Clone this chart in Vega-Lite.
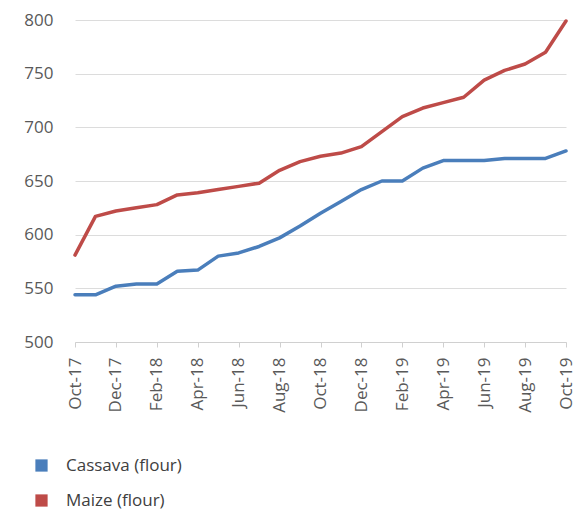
{
  "$schema": "https://vega.github.io/schema/vega-lite/v6.json",
  "autosize": {"type": "none"},
  "width": 491,
  "height": 322,
  "padding": {"left": 75, "top": 20, "right": 17, "bottom": 168},
  "background": "white",
  "config": {
    "view": {"stroke": null},
    "font": "Open Sans"
  },
  "data": {
    "values": [
      {"month": "Oct-17", "commodity": "Cassava (flour)", "price": 544},
      {"month": "Nov-17", "commodity": "Cassava (flour)", "price": 544},
      {"month": "Dec-17", "commodity": "Cassava (flour)", "price": 552},
      {"month": "Jan-18", "commodity": "Cassava (flour)", "price": 554},
      {"month": "Feb-18", "commodity": "Cassava (flour)", "price": 554},
      {"month": "Mar-18", "commodity": "Cassava (flour)", "price": 566},
      {"month": "Apr-18", "commodity": "Cassava (flour)", "price": 567},
      {"month": "May-18", "commodity": "Cassava (flour)", "price": 580},
      {"month": "Jun-18", "commodity": "Cassava (flour)", "price": 583},
      {"month": "Jul-18", "commodity": "Cassava (flour)", "price": 589},
      {"month": "Aug-18", "commodity": "Cassava (flour)", "price": 597},
      {"month": "Sep-18", "commodity": "Cassava (flour)", "price": 608},
      {"month": "Oct-18", "commodity": "Cassava (flour)", "price": 620},
      {"month": "Nov-18", "commodity": "Cassava (flour)", "price": 631},
      {"month": "Dec-18", "commodity": "Cassava (flour)", "price": 642},
      {"month": "Jan-19", "commodity": "Cassava (flour)", "price": 650},
      {"month": "Feb-19", "commodity": "Cassava (flour)", "price": 650},
      {"month": "Mar-19", "commodity": "Cassava (flour)", "price": 662},
      {"month": "Apr-19", "commodity": "Cassava (flour)", "price": 669},
      {"month": "May-19", "commodity": "Cassava (flour)", "price": 669},
      {"month": "Jun-19", "commodity": "Cassava (flour)", "price": 669},
      {"month": "Jul-19", "commodity": "Cassava (flour)", "price": 671},
      {"month": "Aug-19", "commodity": "Cassava (flour)", "price": 671},
      {"month": "Sep-19", "commodity": "Cassava (flour)", "price": 671},
      {"month": "Oct-19", "commodity": "Cassava (flour)", "price": 678},
      {"month": "Oct-17", "commodity": "Maize (flour)", "price": 581},
      {"month": "Nov-17", "commodity": "Maize (flour)", "price": 617},
      {"month": "Dec-17", "commodity": "Maize (flour)", "price": 622},
      {"month": "Jan-18", "commodity": "Maize (flour)", "price": 625},
      {"month": "Feb-18", "commodity": "Maize (flour)", "price": 628},
      {"month": "Mar-18", "commodity": "Maize (flour)", "price": 637},
      {"month": "Apr-18", "commodity": "Maize (flour)", "price": 639},
      {"month": "May-18", "commodity": "Maize (flour)", "price": 642},
      {"month": "Jun-18", "commodity": "Maize (flour)", "price": 645},
      {"month": "Jul-18", "commodity": "Maize (flour)", "price": 648},
      {"month": "Aug-18", "commodity": "Maize (flour)", "price": 660},
      {"month": "Sep-18", "commodity": "Maize (flour)", "price": 668},
      {"month": "Oct-18", "commodity": "Maize (flour)", "price": 673},
      {"month": "Nov-18", "commodity": "Maize (flour)", "price": 676},
      {"month": "Dec-18", "commodity": "Maize (flour)", "price": 682},
      {"month": "Jan-19", "commodity": "Maize (flour)", "price": 696},
      {"month": "Feb-19", "commodity": "Maize (flour)", "price": 710},
      {"month": "Mar-19", "commodity": "Maize (flour)", "price": 718},
      {"month": "Apr-19", "commodity": "Maize (flour)", "price": 723},
      {"month": "May-19", "commodity": "Maize (flour)", "price": 728},
      {"month": "Jun-19", "commodity": "Maize (flour)", "price": 744},
      {"month": "Jul-19", "commodity": "Maize (flour)", "price": 753},
      {"month": "Aug-19", "commodity": "Maize (flour)", "price": 759},
      {"month": "Sep-19", "commodity": "Maize (flour)", "price": 770},
      {"month": "Oct-19", "commodity": "Maize (flour)", "price": 799}
    ]
  },
  "mark": {"type": "line", "strokeWidth": 3.5, "strokeJoin": "round", "strokeCap": "round"},
  "encoding": {
    "x": {
      "field": "month",
      "type": "ordinal",
      "sort": ["Oct-17","Nov-17","Dec-17","Jan-18","Feb-18","Mar-18","Apr-18","May-18","Jun-18","Jul-18","Aug-18","Sep-18","Oct-18","Nov-18","Dec-18","Jan-19","Feb-19","Mar-19","Apr-19","May-19","Jun-19","Jul-19","Aug-19","Sep-19","Oct-19"],
      "scale": {"type": "point", "padding": 0},
      "axis": {
        "title": null,
        "values": ["Oct-17","Dec-17","Feb-18","Apr-18","Jun-18","Aug-18","Oct-18","Dec-18","Feb-19","Apr-19","Jun-19","Aug-19","Oct-19"],
        "labelAngle": 270,
        "labelAlign": "right",
        "labelBaseline": "middle",
        "labelFontSize": 17,
        "labelColor": "#595959",
        "labelPadding": 10,
        "tickSize": 5,
        "tickColor": "#d0d0d0",
        "domainColor": "#d0d0d0",
        "grid": false
      }
    },
    "y": {
      "field": "price",
      "type": "quantitative",
      "scale": {"domain": [500, 800], "nice": false, "zero": false},
      "axis": {
        "title": null,
        "values": [500, 550, 600, 650, 700, 750, 800],
        "domain": false,
        "ticks": false,
        "labelFontSize": 17,
        "labelColor": "#595959",
        "labelPadding": 22,
        "gridColor": "#dcdcdc",
        "gridWidth": 1
      }
    },
    "color": {
      "field": "commodity",
      "type": "nominal",
      "scale": {"domain": ["Cassava (flour)", "Maize (flour)"], "range": ["#4a7ebb", "#be4b48"]},
      "legend": {
        "title": null,
        "orient": "none",
        "legendX": -42,
        "legendY": 437,
        "direction": "vertical",
        "symbolType": "square",
        "symbolSize": 150,
        "symbolStrokeWidth": 0,
        "labelFontSize": 17,
        "labelColor": "#404040",
        "labelOffset": 16,
        "rowPadding": 17,
        "encode": {
          "symbols": {"update": {"fill": {"scale": "color", "field": "value"}, "fillOpacity": {"value": 1}}}
        }
      }
    }
  }
}
